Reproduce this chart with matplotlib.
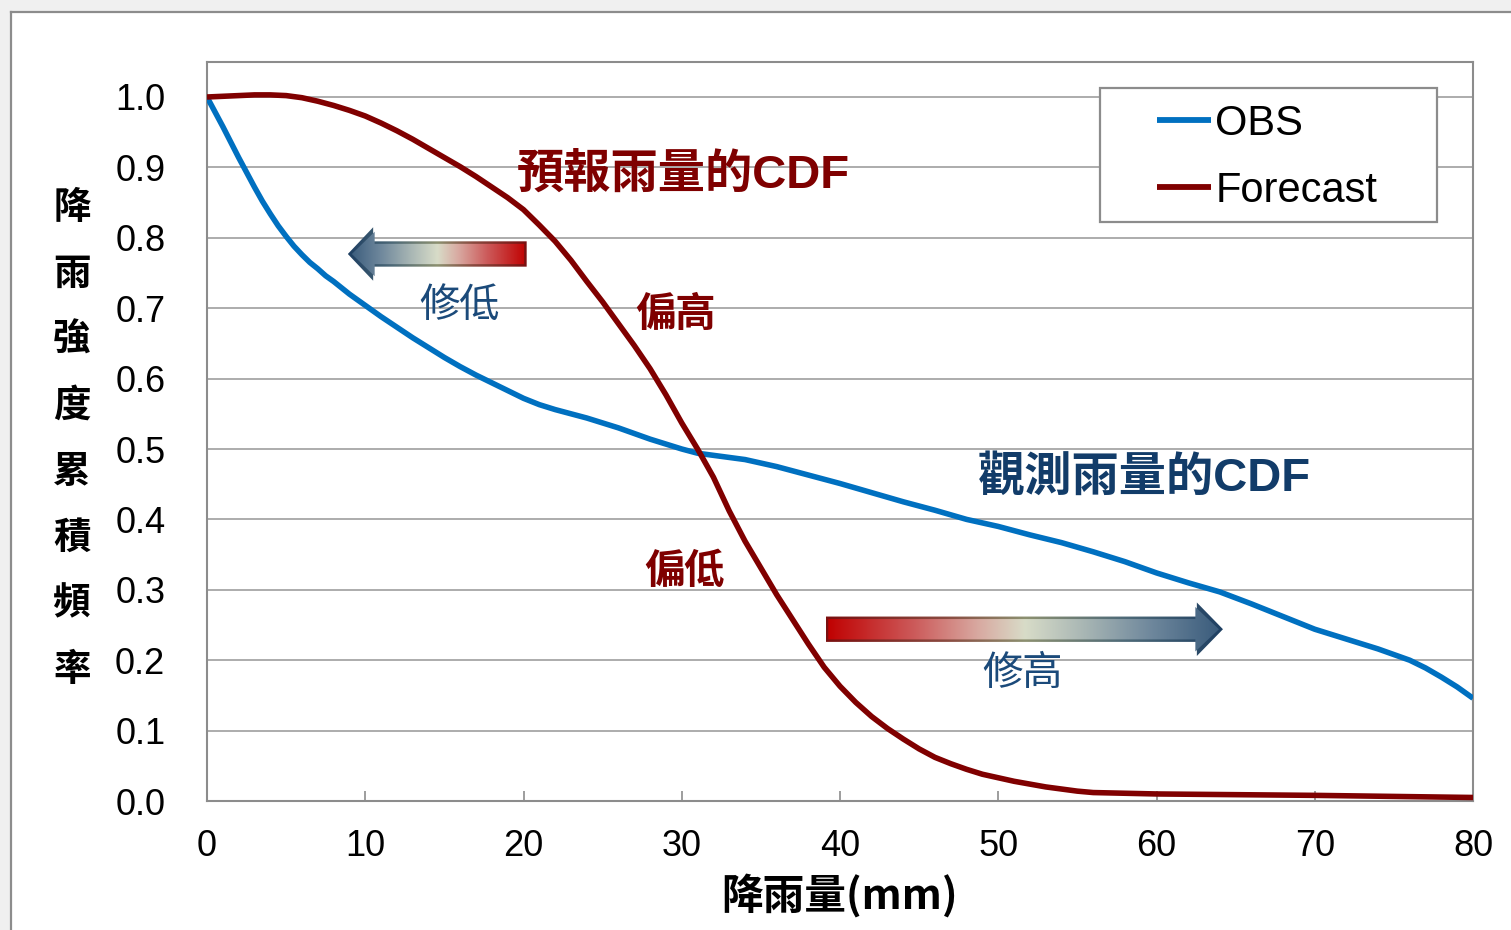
import numpy as np
import matplotlib
matplotlib.use("Agg")
import matplotlib.pyplot as plt
from matplotlib.patches import Polygon, Rectangle
from matplotlib.colors import LinearSegmentedColormap
from matplotlib.lines import Line2D

# ---------------- data ----------------
obs_x = [0, 0.5, 1, 1.5, 2, 2.5, 3, 3.5, 4, 4.5, 5, 5.5, 6, 6.5, 7, 7.5, 8, 9,
         10, 11, 12, 13, 14, 15, 16, 17, 18, 19, 20, 21, 22, 23, 24, 25, 26, 27,
         28, 29, 30, 31, 32, 33, 34, 35, 36, 38, 40, 42, 44, 46, 48, 50, 52, 54,
         56, 58, 60, 62, 64, 66, 68, 70, 72, 74, 76, 77, 78, 79, 80]
obs_y = [1.000, 0.979, 0.958, 0.936, 0.914, 0.893, 0.872, 0.852, 0.834, 0.817,
         0.802, 0.788, 0.776, 0.765, 0.756, 0.746, 0.738, 0.720, 0.704, 0.688,
         0.673, 0.658, 0.644, 0.630, 0.617, 0.605, 0.594, 0.583, 0.572, 0.563,
         0.556, 0.550, 0.544, 0.537, 0.530, 0.522, 0.514, 0.507, 0.500, 0.494,
         0.491, 0.488, 0.485, 0.480, 0.475, 0.463, 0.451, 0.438, 0.425, 0.413,
         0.400, 0.390, 0.378, 0.367, 0.354, 0.340, 0.324, 0.310, 0.297, 0.280,
         0.262, 0.244, 0.230, 0.216, 0.200, 0.189, 0.176, 0.162, 0.146]

fc_x = [0, 1, 2, 3, 4, 5, 6, 7, 8, 9, 10, 11, 12, 13, 14, 15, 16, 17, 18, 19,
        20, 21, 22, 23, 24, 25, 26, 27, 28, 29, 30, 31, 32, 33, 34, 35, 36, 37,
        38, 39, 40, 41, 42, 43, 44, 45, 46, 47, 48, 49, 50, 51, 52, 53, 54, 55,
        56, 58, 60, 70, 80]
fc_y = [1.000, 1.001, 1.002, 1.003, 1.003, 1.002, 0.999, 0.994, 0.988, 0.981,
        0.973, 0.963, 0.952, 0.940, 0.927, 0.914, 0.901, 0.887, 0.872, 0.857,
        0.840, 0.818, 0.795, 0.768, 0.738, 0.709, 0.678, 0.647, 0.614, 0.577,
        0.537, 0.500, 0.460, 0.412, 0.369, 0.331, 0.293, 0.258, 0.223, 0.190,
        0.163, 0.140, 0.120, 0.103, 0.088, 0.074, 0.062, 0.053, 0.045, 0.038,
        0.033, 0.028, 0.024, 0.020, 0.017, 0.014, 0.012, 0.011, 0.010, 0.008,
        0.005]

series_labels = ["OBS", "Forecast"]
xticks = [0, 10, 20, 30, 40, 50, 60, 70, 80]
yticks = [0.0, 0.1, 0.2, 0.3, 0.4, 0.5, 0.6, 0.7, 0.8, 0.9, 1.0]
ylabel_chars = ["降", "雨", "強", "度", "累", "積", "頻", "率"]
xlabel = "降雨量(mm)"

# ---------------- figure ----------------
W, H = 1511, 930
fig = plt.figure(figsize=(W / 100, H / 100), dpi=100)
fig.patch.set_facecolor("white")

def fx(px):
    return px / W

def fy(py):
    return 1 - py / H

# outer slide frame
fig.add_artist(Rectangle((0, fy(11)), 1, 1 - fy(11), transform=fig.transFigure,
                         facecolor="#F0F0F0", edgecolor="none", zorder=0))
fig.add_artist(Rectangle((0, 0), fx(10), 1, transform=fig.transFigure,
                         facecolor="#F0F0F0", edgecolor="none", zorder=0))
fig.add_artist(Line2D([fx(11), fx(11)], [0, fy(12)], transform=fig.transFigure,
                      color="#8C8C8C", lw=1.6, zorder=1))
fig.add_artist(Line2D([fx(11), 1], [fy(12), fy(12)], transform=fig.transFigure,
                      color="#8C8C8C", lw=1.6, zorder=1))

ax = fig.add_axes([fx(207), fy(801), fx(1473) - fx(207), fy(62) - fy(801)])
ax.set_xlim(0, 80)
ax.set_ylim(0, (801 - 62) / 704)

ax.plot(obs_x, obs_y, color="#0070C0", lw=4.0, solid_capstyle="butt",
        solid_joinstyle="round", zorder=4, label=series_labels[0])
ax.plot(fc_x, fc_y, color="#800000", lw=4.0, solid_capstyle="butt",
        solid_joinstyle="round", zorder=4, label=series_labels[1])

ax.set_xticks(xticks)
ax.set_yticks(yticks)
ax.set_xticklabels([str(v) for v in xticks])
ax.set_yticklabels([f"{v:.1f}" for v in yticks])
ax.tick_params(axis="x", direction="in", length=7, width=1.2, color="#8C8C8C",
               pad=20, labelsize=26)
ax.tick_params(axis="y", length=0, pad=30, labelsize=26)
for lab in ax.get_xticklabels() + ax.get_yticklabels():
    lab.set_family("Liberation Sans")
ax.grid(axis="y", color="#A6A6A6", lw=1.3, zorder=1)
ax.set_axisbelow(True)
for s in ax.spines.values():
    s.set_color("#8C8C8C")
    s.set_linewidth(1.5)

# y label, one character per line
ys = [207, 273, 339, 405, 471, 537, 603, 669]
for ch, py in zip(ylabel_chars, ys):
    fig.text(fx(72), fy(py), ch, family="Noto Sans CJK TC", fontsize=27,
             weight="bold", ha="center", va="center")

fig.text(fx(840), fy(896), xlabel, family="Noto Sans CJK TC", fontsize=30,
         weight="bold", ha="center", va="center")

# legend (frame drawn separately)
h, l = ax.get_legend_handles_labels()
leg = fig.legend(h, l, loc="center left", bbox_to_anchor=(fx(1157), fy(157.5)),
                 frameon=False, borderpad=0, borderaxespad=0, handlelength=1.3,
                 handletextpad=0.1, labelspacing=0.65,
                 prop={"family": "Liberation Sans", "size": 30})
for ln in leg.get_lines():
    ln.set_linewidth(4.2)
fig.add_artist(Rectangle((fx(1100), fy(222)), fx(1437) - fx(1100), fy(88) - fy(222),
                         transform=fig.transFigure, facecolor="white",
                         edgecolor="#8C8C8C", lw=1.6, zorder=2))
leg.set_zorder(5)

# annotations
red_txt = "#7F0000"
navy_txt = "#123C69"
fam = ["Liberation Sans", "Noto Sans CJK TC"]
fig.text(fx(683), fy(176), "預報雨量的CDF", family=fam, fontsize=34, weight="bold",
         color=red_txt, ha="center", va="center")
fig.text(fx(1144), fy(478), "觀測雨量的CDF", family=fam, fontsize=34, weight="bold",
         color=navy_txt, ha="center", va="center")
fig.text(fx(676), fy(315), "偏高", family="Noto Sans CJK TC", fontsize=29,
         weight="bold", color=red_txt, ha="center", va="center")
fig.text(fx(685), fy(571), "偏低", family="Noto Sans CJK TC", fontsize=29,
         weight="bold", color=red_txt, ha="center", va="center")
fig.text(fx(460), fy(305), "修低", family="Noto Sans CJK TC", fontsize=29,
         color="#1B4A7A", ha="center", va="center")
fig.text(fx(1023), fy(673), "修高", family="Noto Sans CJK TC", fontsize=29,
         color="#1B4A7A", ha="center", va="center")

# gradient arrows
fill_cmap = LinearSegmentedColormap.from_list(
    "fill", [(0.0, "#C00000"), (0.22, "#CC5A5A"), (0.38, "#D8A8A0"),
             (0.5, "#D8DCC8"), (0.65, "#A8B6B4"), (0.82, "#6E879C"),
             (1.0, "#37597A")])
edge_cmap = LinearSegmentedColormap.from_list(
    "edge", [(0.0, "#7A1010"), (0.3, "#8A4A40"), (0.5, "#8C9070"),
             (0.75, "#4E6A78"), (1.0, "#1E3F62")])

def arrow_verts(x_tail, x_tip, yc, bh, hh, hl):
    d = 1 if x_tip > x_tail else -1
    xb = x_tip - d * hl
    return [(x_tail, yc - bh), (xb, yc - bh), (xb, yc - hh), (x_tip, yc),
            (xb, yc + hh), (xb, yc + bh), (x_tail, yc + bh)]

def gradient_arrow(x_tail, x_tip, yc, bh, hh, hl):
    pxu = 1 / 15.825
    pyu = 1 / 704
    d = 1 if x_tip > x_tail else -1
    outer = Polygon(arrow_verts(x_tail, x_tip, yc, bh, hh, hl), closed=True,
                    facecolor="none", edgecolor="none", transform=ax.transData)
    inner = Polygon(arrow_verts(x_tail + d * 2.5 * pxu, x_tip - d * 4 * pxu, yc,
                                bh - 2.5 * pyu, hh - 4.5 * pyu, hl - 2.5 * pxu),
                    closed=True, facecolor="none", edgecolor="none",
                    transform=ax.transData)
    ax.add_patch(outer)
    ax.add_patch(inner)
    grad = np.linspace(0, 1, 256).reshape(1, -1)
    if d < 0:
        grad = grad[:, ::-1]
    ext = (min(x_tail, x_tip), max(x_tail, x_tip), yc - hh, yc + hh)
    im1 = ax.imshow(grad, cmap=edge_cmap, extent=ext, aspect="auto", zorder=6,
                    interpolation="bilinear")
    im1.set_clip_path(outer)
    im2 = ax.imshow(grad, cmap=fill_cmap, extent=ext, aspect="auto", zorder=7,
                    interpolation="bilinear")
    im2.set_clip_path(inner)

gradient_arrow(20.2, 8.9, 0.777, 0.018, 0.038, 1.6)
gradient_arrow(39.1, 64.2, 0.244, 0.018, 0.038, 1.65)
ax.set_xlim(0, 80)
ax.set_ylim(0, (801 - 62) / 704)

fig.savefig("out.png", dpi=100)
